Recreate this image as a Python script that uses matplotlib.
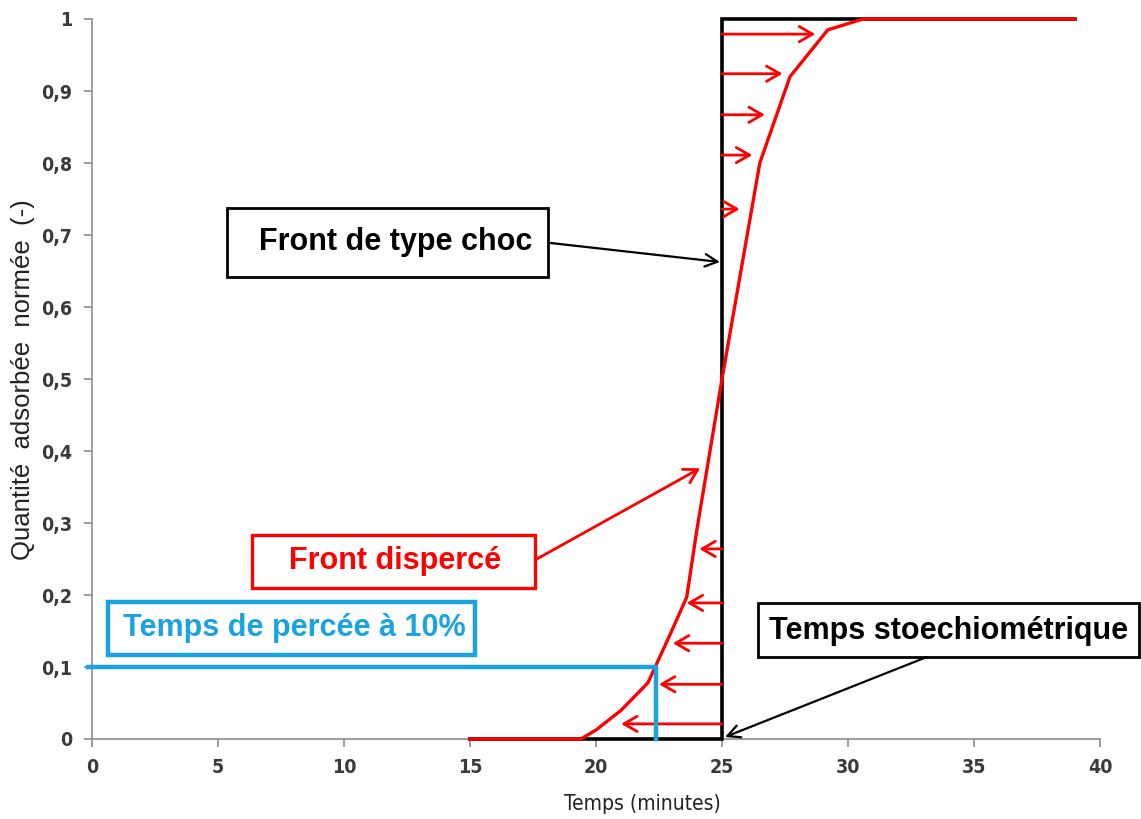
import matplotlib
matplotlib.use("Agg")
import matplotlib.pyplot as plt
from matplotlib.patches import Rectangle

# ---- data ----
dispersed_t = [15, 19.4, 20.0, 21.0, 22.06, 22.4, 22.9, 23.6, 24.0, 25.0, 25.7, 26.5, 27.7, 29.2, 30.6, 39.0]
dispersed_q = [0.0, 0.0, 0.0125, 0.04, 0.078, 0.104, 0.142, 0.197, 0.29, 0.50, 0.64, 0.80, 0.92, 0.985, 1.0, 1.0]
shock_t = [15, 25, 25, 39]
shock_q = [0.0, 0.0, 1.0, 1.0]
t_stoich = 25
breakthrough_t = 22.4
breakthrough_q = 0.1
# arrows showing dispersion: (level, tip time)
right_arrow_q = [0.979, 0.924, 0.867, 0.811, 0.736]
right_arrow_t = [28.7, 27.4, 26.7, 26.2, 25.7]
left_arrow_q = [0.264, 0.189, 0.133, 0.076, 0.021]
left_arrow_t = [24.1, 23.6, 23.05, 22.5, 21.0]
xticks = [0, 5, 10, 15, 20, 25, 30, 35, 40]
yticks = [0, 0.1, 0.2, 0.3, 0.4, 0.5, 0.6, 0.7, 0.8, 0.9, 1.0]
ytick_labels = ['0', '0,1', '0,2', '0,3', '0,4', '0,5', '0,6', '0,7', '0,8', '0,9', '1']

RED = '#FF0000'
BLUE = '#1AA3E0'
FONT = ['Liberation Sans', 'DejaVu Sans']

fig = plt.figure(figsize=(11.41, 8.19), dpi=100)
ax = fig.add_axes([92/1141, 80/819, 1008/1141, 720/819])
ax.set_xlim(0, 40)
ax.set_ylim(0, 1)

ax.plot(shock_t, shock_q, color='black', lw=2.6, clip_on=False, zorder=3, solid_joinstyle='miter')
ax.plot(dispersed_t, dispersed_q, color=RED, lw=2.4, clip_on=False, zorder=4)
ax.plot([-0.15, breakthrough_t, breakthrough_t], [breakthrough_q, breakthrough_q, 0], color=BLUE, lw=3.2, clip_on=False, zorder=5, solid_joinstyle='miter')

ARR = '->,head_length=0.95,head_width=0.55'
for q, t in zip(right_arrow_q, right_arrow_t):
    ax.annotate('', xy=(t, q), xytext=(t_stoich, q),
                arrowprops=dict(arrowstyle=ARR, color=RED, lw=2, shrinkA=0, shrinkB=0), zorder=4)
for q, t in zip(left_arrow_q, left_arrow_t):
    ax.annotate('', xy=(t, q), xytext=(t_stoich, q),
                arrowprops=dict(arrowstyle=ARR, color=RED, lw=2, shrinkA=0, shrinkB=0), zorder=4)

def box(x0, x1, y0, y1, ec, lw):
    ax.add_patch(Rectangle((x0, y0), x1 - x0, y1 - y0, fill=True, fc='white', ec=ec, lw=lw, clip_on=False, zorder=6))

box(5.36, 18.1, 0.6417, 0.7375, 'black', 2)
ax.text(12.06, 0.690, 'Front de type choc', ha='center', va='center', fontsize=22, fontweight='bold', family=FONT, color='black', zorder=7)
ax.annotate('', xy=(24.92, 0.6625), xytext=(18.17, 0.689),
            arrowprops=dict(arrowstyle='->,head_length=0.9,head_width=0.45', color='black', lw=1.6, shrinkA=0, shrinkB=0), zorder=6)

box(6.35, 17.58, 0.2097, 0.2833, RED, 2.4)
ax.text(12.02, 0.247, 'Front dispercé', ha='center', va='center', fontsize=22, fontweight='bold', family=FONT, color=RED, zorder=7)
ax.annotate('', xy=(24.13, 0.376), xytext=(17.58, 0.2486),
            arrowprops=dict(arrowstyle=ARR, color=RED, lw=2, shrinkA=0, shrinkB=0), zorder=6)

box(0.635, 15.2, 0.1167, 0.19, BLUE, 3.2)
ax.text(8.02, 0.154, 'Temps de percée à 10%', ha='center', va='center', fontsize=22, fontweight='bold', family=FONT, color=BLUE, zorder=7)

box(26.43, 41.55, 0.1139, 0.189, 'black', 2)
ax.text(34.0, 0.150, 'Temps stoechiométrique', ha='center', va='center', fontsize=22, fontweight='bold', family=FONT, color='black', zorder=7)
ax.annotate('', xy=(25.12, 0.0028), xytext=(33.13, 0.1139),
            arrowprops=dict(arrowstyle='->,head_length=0.9,head_width=0.45', color='black', lw=1.6, shrinkA=0, shrinkB=0), zorder=6)

for s in ['top', 'right']:
    ax.spines[s].set_visible(False)
for s in ['left', 'bottom']:
    ax.spines[s].set_color('#8C8C8C')
    ax.spines[s].set_linewidth(1.2)
ax.set_xticks(xticks)
ax.set_xticklabels([str(v) for v in xticks])
ax.set_yticks(yticks)
ax.set_yticklabels(ytick_labels)
ax.tick_params(direction='out', length=6, width=1.2, color='#8C8C8C', labelsize=14, labelcolor='#3a3a3a', pad=8)
for lab in ax.get_xticklabels() + ax.get_yticklabels():
    lab.set_family('DejaVu Sans')
    lab.set_stretch('condensed')
    lab.set_weight('bold')
ax.set_xlabel('Temps (minutes)', fontsize=15, color='#222222', family='DejaVu Sans', stretch='condensed')
ax.xaxis.set_label_coords(0.546, -0.077)
ax.set_ylabel('Quantité  adsorbée  normée  (-)', fontsize=18.5, color='#222222', family=FONT)
ax.yaxis.set_label_coords(-0.057, 0.499)

fig.savefig('out.png', dpi=100)
